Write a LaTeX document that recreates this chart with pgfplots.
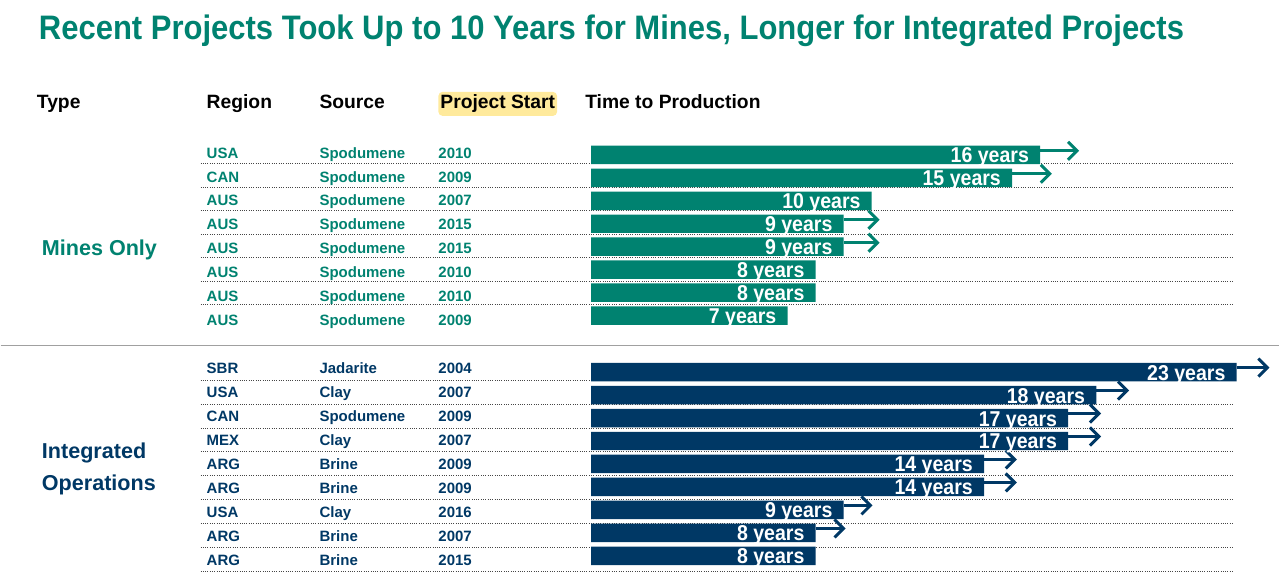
\documentclass[border=0pt]{standalone}
\usepackage{pgfplots}
\pgfplotsset{compat=1.18}
\usepackage{pgfplotstable}
\usetikzlibrary{arrows.meta}
\usepackage{fontspec}
\setmainfont{Liberation Sans}
\newfontfamily\titlefont[FakeStretch=0.913]{Liberation Sans}
\newfontfamily\narrowfont[FakeStretch=0.91]{Liberation Sans}
\definecolor{tealc}{RGB}{0,130,112}
\definecolor{navy}{RGB}{0,56,101}
\definecolor{hl}{RGB}{255,234,156}
\definecolor{dotcol}{RGB}{70,70,70}
\definecolor{sepgray}{RGB}{160,160,160}

% bar centre y (px), text baseline y (px), region, source, project start, years to production
\pgfplotstableread{
y ty region source start years
155 158.4 USA Spodumene 2010 16
178 182.4 CAN Spodumene 2009 15
201 205.4 AUS Spodumene 2007 10
224 229.4 AUS Spodumene 2015 9
247 253.4 AUS Spodumene 2015 9
270 277.4 AUS Spodumene 2010 8
293 301.4 AUS Spodumene 2010 8
316 325.4 AUS Spodumene 2009 7
}\mines
\pgfplotstableread{
y ty region source start years
372.5 373.9 SBR Jadarite 2004 23
395.5 397.9 USA Clay 2007 18
418.5 422.4 CAN Spodumene 2009 17
441.5 446.4 MEX Clay 2007 17
464.5 470.4 ARG Brine 2009 14
487.5 494.4 ARG Brine 2009 14
510.5 518.4 USA Clay 2016 9
533.5 542.4 ARG Brine 2007 8
556.5 566.4 ARG Brine 2015 8
}\integ
% arrows: start (years), y (px), length (years)
\pgfplotstableread{
years ay u
16 151 1.39
15 174 1.42
9 220 1.28
9 243 1.28
}\minesarr
\pgfplotstableread{
years ay u
23 368 1.17
18 391 1.17
17 414 1.17
17 437 1.17
14 460 1.17
14 483 1.17
9 506 1.03
8 529 1.07
}\integarr

\begin{document}
\begin{tikzpicture}
\begin{axis}[
  width=1280pt, height=577pt, scale only axis,
  xmin=-21.032, xmax=24.520, ymin=0, ymax=577, y dir=reverse,
  hide axis, clip=false,
  /pgf/number format/assume math mode=true,
]
\path (rel axis cs:0,0) rectangle (rel axis cs:1,1);

% separator
\addplot[draw=sepgray, line width=1.5pt, mark=none] coordinates {(-21.032,346) (24.52,346)};

% dotted row lines
\addplot[draw=dotcol, line width=1pt, dash pattern=on 1pt off 1.3pt, mark=none, unbounded coords=jump] coordinates {
(-13.915,164) (22.918,164) (nan,nan)
(-13.915,187.5) (22.918,187.5) (nan,nan)
(-13.915,211) (22.918,211) (nan,nan)
(-13.915,234.5) (22.918,234.5) (nan,nan)
(-13.915,258) (22.918,258) (nan,nan)
(-13.915,281.5) (22.918,281.5) (nan,nan)
(-13.915,305) (22.918,305) (nan,nan)
(-13.915,381) (22.918,381) (nan,nan)
(-13.915,405) (22.918,405) (nan,nan)
(-13.915,428.5) (22.918,428.5) (nan,nan)
(-13.915,452.5) (22.918,452.5) (nan,nan)
(-13.915,476.5) (22.918,476.5) (nan,nan)
(-13.915,500.5) (22.918,500.5) (nan,nan)
(-13.915,524.5) (22.918,524.5) (nan,nan)
(-13.915,548) (22.918,548) (nan,nan)
(-13.915,572) (22.918,572)
};

% bars
\addplot[xbar, bar width=18.5pt, fill=tealc, draw=none,
  nodes near coords={\pgfmathprintnumber{\pgfplotspointmeta}~years}, point meta=x,
  every node near coord/.append style={anchor=base east, inner sep=0pt, xshift=-11pt, yshift=-8pt, text=white, font=\narrowfont\bfseries\fontsize{21.5}{21.5}\selectfont}]
  table[x=years, y=y] {\mines};
\addplot[xbar, bar width=18.5pt, fill=navy, draw=none,
  nodes near coords={\pgfmathprintnumber{\pgfplotspointmeta}~years}, point meta=x,
  every node near coord/.append style={anchor=base east, inner sep=0pt, xshift=-11pt, yshift=-8pt, text=white, font=\narrowfont\bfseries\fontsize{21.5}{21.5}\selectfont}]
  table[x=years, y=y] {\integ};

% arrows
\addplot[draw=tealc, line width=3pt, quiver={u=\thisrow{u}, v=0}, -{Straight Barb[length=9pt, width=18pt]}]
  table[x=years, y=ay] {\minesarr};
\addplot[draw=navy, line width=3pt, quiver={u=\thisrow{u}, v=0}, -{Straight Barb[length=9pt, width=18pt]}]
  table[x=years, y=ay] {\integarr};

% text columns
\pgfplotsset{rowtext/.style={draw=none, mark=none, nodes near coords, point meta=explicit symbolic,
  every node near coord/.append style={anchor=base west, inner sep=0pt, text=#1, font=\bfseries\fontsize{15}{15}\selectfont}}}
\addplot[rowtext=tealc] table[x expr=-13.701, y=ty, meta=region] {\mines};
\addplot[rowtext=tealc] table[x expr=-9.680, y=ty, meta=source] {\mines};
\addplot[rowtext=tealc] table[x expr=-5.445, y=ty, meta=start] {\mines};
\addplot[rowtext=navy] table[x expr=-13.701, y=ty, meta=region] {\integ};
\addplot[rowtext=navy] table[x expr=-9.680, y=ty, meta=source] {\integ};
\addplot[rowtext=navy] table[x expr=-5.445, y=ty, meta=start] {\integ};

% title
\node[anchor=base west, inner sep=0pt, text=tealc, font=\titlefont\bfseries\fontsize{34}{34}\selectfont]
  at (axis cs:-19.680,39.5) {Recent Projects Took Up to 10 Years for Mines, Longer for Integrated Projects};

% headers
\begin{scope}[every node/.style={anchor=base west, inner sep=0pt, font=\bfseries\fontsize{19.3}{19.3}\selectfont}]
\node at (axis cs:-19.751,109) {Type};
\node at (axis cs:-13.701,109) {Region};
\node at (axis cs:-9.680,109) {Source};
\node[fill=hl, rounded corners=4pt, inner xsep=2pt, inner ysep=3pt] at (axis cs:-5.445,109) {Project Start};
\node at (axis cs:-0.214,109) {Time to Production};
\end{scope}

% group labels
\node[anchor=base west, inner sep=0pt, text=tealc, font=\bfseries\fontsize{21.6}{21.6}\selectfont] at (axis cs:-19.573,256) {Mines Only};
\node[anchor=base west, inner sep=0pt, text=navy, font=\bfseries\fontsize{21.6}{21.6}\selectfont] at (axis cs:-19.573,459) {Integrated};
\node[anchor=base west, inner sep=0pt, text=navy, font=\bfseries\fontsize{21.6}{21.6}\selectfont] at (axis cs:-19.573,491) {Operations};
\end{axis}
\end{tikzpicture}
\end{document}
